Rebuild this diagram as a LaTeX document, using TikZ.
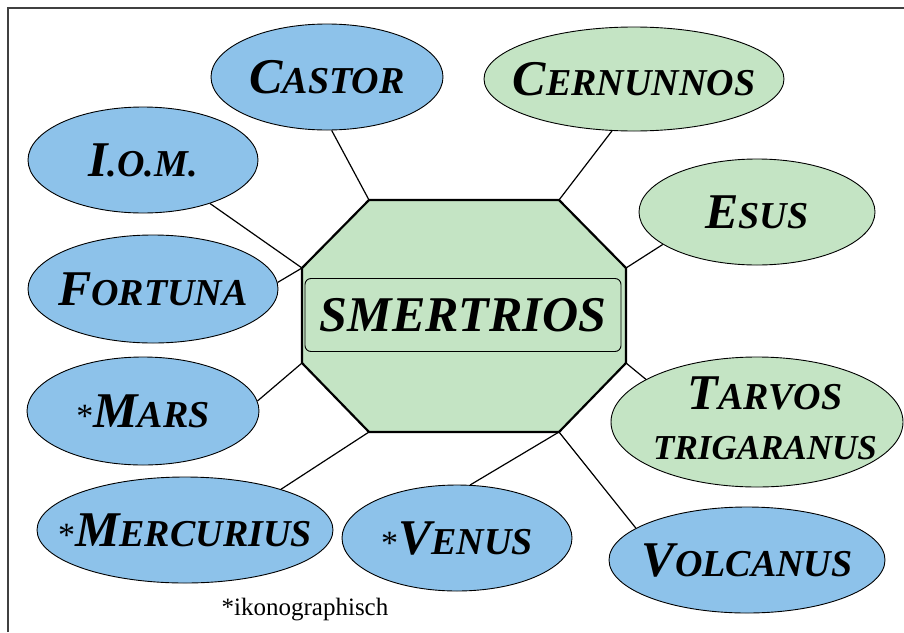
\documentclass[tikz,border=0pt]{standalone}
\usepackage{fontspec}
\setmainfont{Liberation Serif}
\usetikzlibrary{shapes.geometric}

\definecolor{godblue}{RGB}{141,194,234}
\definecolor{godgreen}{RGB}{196,228,196}

% large initial, smaller capitals
\newcommand{\godname}[2]{{\fontsize{50}{50}\selectfont #1}{\fontsize{38}{38}\selectfont #2}}
\newcommand{\ikonmark}{{\normalfont\fontsize{34}{34}\selectfont *}}

\begin{document}
\begin{tikzpicture}[
    x=1pt, y=-1pt,
    god/.style={draw=black, ellipse, line width=0.9pt, inner sep=0pt},
    roman/.style={god, fill=godblue},
    celtic/.style={god, fill=godgreen},
    godtext/.style={font=\bfseries\itshape, align=center, inner sep=0pt},
    link/.style={line width=1.2pt, draw=black},
    frame/.style={line width=1.4pt, draw=black!75}
  ]
    \useasboundingbox (0,0) rectangle (904,632);
    \draw[frame] (8,632) -- (8,8) -- (904,8);

    % Octagon corners
    \coordinate (v1) at (369,200);
    \coordinate (v2) at (559,200);
    \coordinate (v3) at (626,268);
    \coordinate (v4) at (626,363);
    \coordinate (v5) at (559,432);
    \coordinate (v6) at (369,432);
    \coordinate (v7) at (302,363);
    \coordinate (v8) at (302,268);
    \draw[fill=godgreen, line width=2.2pt, line join=miter]
      (v1) -- (v2) -- (v3) -- (v4) -- (v5) -- (v6) -- (v7) -- (v8) -- cycle;

    \node[draw, rounded corners=6pt, line width=0.9pt, minimum width=316, minimum height=73,
      inner sep=0pt, font=\bfseries\itshape\fontsize{50}{50}\selectfont] (smertrios) at (463,315) {SMERTRIOS};

    % Nodes
    \node[roman, minimum width=232, minimum height=106, label={[godtext]center:\godname{C}{ASTOR}}] (castor) at (327,77) {};
    \node[celtic, minimum width=300, minimum height=104, label={[godtext]center:\godname{C}{ERNUNNOS}}] (cernunnos) at (634,79) {};
    \node[roman, minimum width=230, minimum height=106, label={[godtext]center:\godname{I}{.O.M.}}] (iom) at (143,160) {};
    \node[celtic, minimum width=236, minimum height=106, label={[godtext]center:\godname{E}{SUS}}] (esus) at (757,212) {};
    \node[roman, minimum width=250, minimum height=108, label={[godtext]center:\godname{F}{ORTUNA}}] (fortuna) at (153,289) {};
    \node[roman, minimum width=232, minimum height=108, label={[godtext]center:\ikonmark\godname{M}{ARS}}] (mars) at (143,411) {};
    \node[celtic, minimum width=292, minimum height=130,
      label={[godtext, font=\bfseries\itshape\fontsize{35}{50}\selectfont, xshift=8pt, yshift=4pt]center:{\godname{T}{ARVOS}\\TRIGARANUS}}] (tarvos) at (757,422) {};
    \node[roman, minimum width=296, minimum height=106, label={[godtext]center:\ikonmark\godname{M}{ERCURIUS}}] (mercurius) at (185,530) {};
    \node[roman, minimum width=230, minimum height=106, label={[godtext]center:\ikonmark\godname{V}{ENUS}}] (venus) at (457,538) {};
    \node[roman, minimum width=276, minimum height=106, label={[godtext]center:\godname{V}{OLCANUS}}] (volcanus) at (747,560) {};

    \node[font=\fontsize{25}{25}\selectfont, inner sep=0pt] (note) at (305,610) {*ikonographisch};

    % Connections
    \draw[link] (castor.-85) -- (v1);
    \draw[link] (cernunnos.-113) -- (v2);
    \draw[link] (iom.-33) -- (v8);
    \draw[link] (fortuna.3) -- (v8);
    \draw[link] (esus.-161) -- (v3);
    \draw[link] (tarvos.159) -- (v4);
    \draw[link] (mars.5) -- (v7);
    \draw[link] (mercurius.23) -- (v6);
    \draw[link] (venus.76) -- (v5);
    \draw[link] (volcanus.164) -- (v5);

  \end{tikzpicture}
\end{document}
